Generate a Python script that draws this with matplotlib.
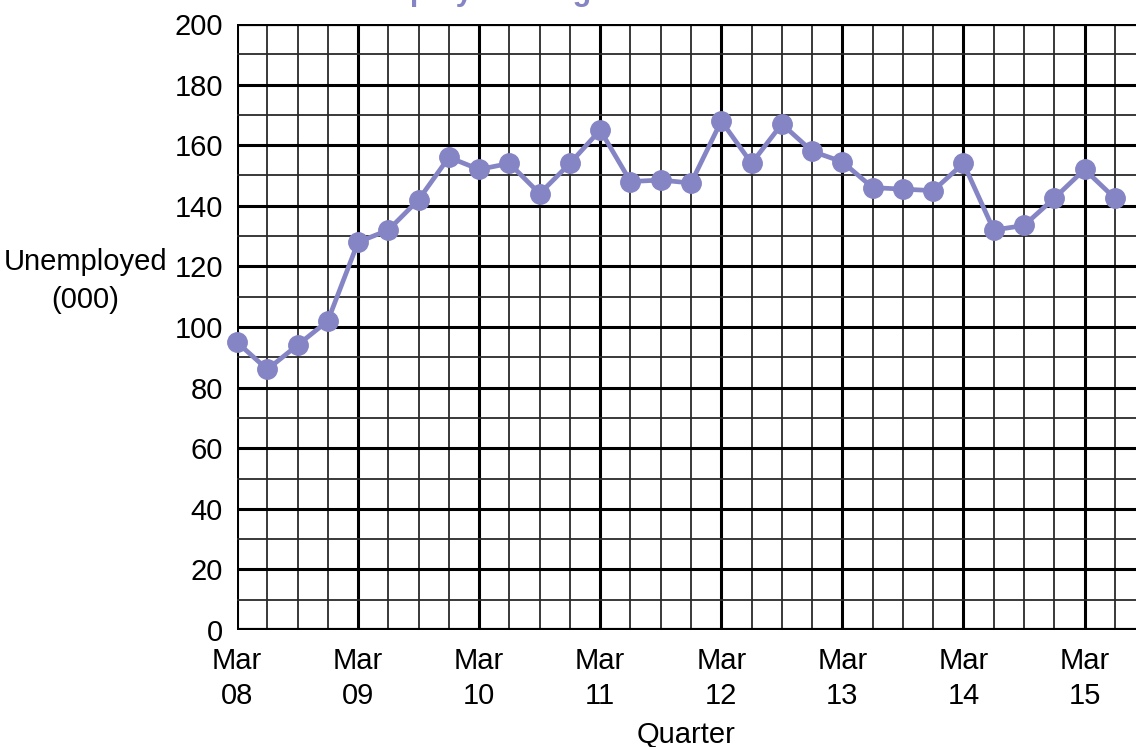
import matplotlib
matplotlib.use("Agg")
import matplotlib.pyplot as plt
from matplotlib.ticker import MultipleLocator

# Unemployment (thousands) per quarter, Mar 08 .. Jun 15
quarters = list(range(30))
unemployed = [95, 86, 94, 102, 128, 132, 142, 156, 152, 154,
              144, 154, 165, 148, 148.5, 147.5, 168, 154, 167, 158,
              154.5, 146, 145.5, 145, 154, 132, 133.5, 142.5, 152, 142.5]
year_ticks = [0, 4, 8, 12, 16, 20, 24, 28]
year_labels = ["Mar\n08", "Mar\n09", "Mar\n10", "Mar\n11",
               "Mar\n12", "Mar\n13", "Mar\n14", "Mar\n15"]

plt.rcParams['font.family'] = ['Liberation Sans', 'DejaVu Sans']
line_col = "#8585c6"

fig = plt.figure(figsize=(11.36, 7.47), dpi=100)
ax = fig.add_axes([0.2086, 0.1566, 0.7914, 0.8113])

ax.plot(quarters, unemployed, color=line_col, lw=3.4, marker="o", ms=14,
        clip_on=False, zorder=5)

ax.set_xlim(0, 29.7)
ax.set_ylim(0, 200)
ax.set_xticks(year_ticks)
ax.set_xticklabels(year_labels, linespacing=1.35)
ax.xaxis.set_minor_locator(MultipleLocator(1))
ax.yaxis.set_major_locator(MultipleLocator(20))
ax.yaxis.set_minor_locator(MultipleLocator(10))
ax.grid(which="major", color="black", lw=2.2)
ax.grid(which="minor", color="#2a2a2a", lw=1.3)
ax.set_axisbelow(True)
ax.tick_params(which="both", length=0, labelsize=21)
ax.tick_params(axis="x", pad=12)
ax.tick_params(axis="y", pad=10)
for s in ax.spines.values():
    s.set_visible(False)
ax.axhline(0, color="black", lw=3, zorder=3)
ax.axhline(200, color="black", lw=3, zorder=3)

ax.set_xlabel("Quarter", fontsize=21, va="center")
ax.xaxis.set_label_coords(0.5, -0.173)
fig.text(0.075, 0.624, "Unemployed\n(000)", fontsize=21, ha="center",
         va="center", linespacing=1.45)

# title sits mostly above the canvas, only the descenders show
fig.text(0.286, 1.0, "Unemployment figures", fontsize=22, fontweight="bold",
         color=line_col, va="baseline")

fig.savefig("out.png", dpi=100)
